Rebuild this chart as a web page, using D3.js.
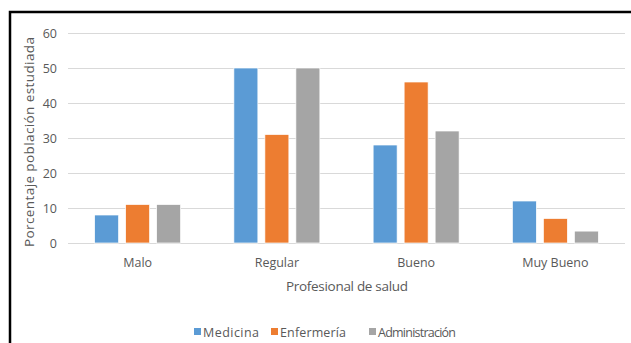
<!DOCTYPE html>
<html>
<head>
<meta charset="utf-8">
<script src="https://cdn.jsdelivr.net/npm/d3@7"></script>
<style>
  body { margin: 0; background: #fff; }
  text { font-family: "Open Sans", "Noto Sans", sans-serif; fill: #595959; }
</style>
</head>
<body>
<svg id="chart" width="631" height="343"></svg>
<script>
// chart data
const categories = ['Malo', 'Regular', 'Bueno', 'Muy Bueno'];
const seriesNames = ['Medicina', 'Enfermería', 'Administración'];
const medicina = [8, 50, 28, 12];
const enfermeria = [11, 31, 46, 7];
const administracion = [11, 50, 32, 3.4];
const yTicks = [0, 10, 20, 30, 40, 50, 60];
const colors = ['#5b9bd5', '#ed7d31', '#a5a5a5'];

const seriesValues = [medicina, enfermeria, administracion];
const rows = categories.map((c, i) => ({
    cat: c,
    vals: seriesNames.map((s, j) => ({ key: s, value: seriesValues[j][i] }))
}));

const svg = d3.select('#chart');
const margin = { left: 68, right: 6, top: 33, bottom: 100 };
const W = 631, H = 343;
const plotW = W - margin.left - margin.right;   // 557
const plotH = H - margin.top - margin.bottom;   // 210

// frame (top + left edges visible)
svg.append('path')
    .attr('d', `M10,${H} L10,12 L${W},12`)
    .attr('fill', 'none')
    .attr('stroke', '#000')
    .attr('stroke-width', 2.5);

const g = svg.append('g').attr('transform', `translate(${margin.left},${margin.top})`);

const x0 = d3.scaleBand().domain(categories).range([0, plotW]).padding(0);
const groupW = 86;
const x1 = d3.scaleBand().domain(seriesNames)
    .range([-groupW / 2, groupW / 2])
    .paddingInner(7 / 31);
const y = d3.scaleLinear().domain([0, 60]).range([plotH, 0]);

// gridlines
g.append('g').selectAll('line').data(yTicks).join('line')
    .attr('x1', 0).attr('x2', plotW)
    .attr('y1', d => y(d) + 0.5).attr('y2', d => y(d) + 0.5)
    .attr('stroke', '#d9d9d9').attr('stroke-width', 1);

// y tick labels
const yAxis = g.append('g').call(d3.axisLeft(y).tickValues(yTicks).tickSize(0).tickPadding(11));
yAxis.select('.domain').remove();
yAxis.selectAll('text').style('font-size', '12.5px').attr('fill', '#595959').attr('font-family', null);

// bars
const groups = g.append('g').selectAll('g').data(rows).join('g')
    .attr('transform', d => `translate(${x0(d.cat) + x0.bandwidth() / 2},0)`);
groups.selectAll('rect').data(d => d.vals).join('rect')
    .attr('x', d => x1(d.key))
    .attr('width', x1.bandwidth())
    .attr('y', d => y(d.value))
    .attr('height', d => plotH - y(d.value))
    .attr('fill', (d, i) => colors[i])
    .attr('stroke', '#fff').attr('stroke-width', 0.7);

// x tick labels
const xAxis = g.append('g').attr('transform', `translate(0,${plotH})`)
    .call(d3.axisBottom(x0).tickSize(0).tickPadding(15));
xAxis.select('.domain').remove();
xAxis.selectAll('text').style('font-size', '12.5px').attr('fill', '#595959').attr('font-family', null);

// axis titles
svg.append('text')
    .attr('x', 347).attr('y', 291)
    .attr('text-anchor', 'middle')
    .style('font-size', '13.5px')
    .attr('textLength', 122)
    .text('Profesional de salud');

svg.append('text')
    .attr('transform', 'translate(34,142) rotate(-90)')
    .attr('text-anchor', 'middle')
    .style('font-size', '13.5px')
    .attr('textLength', 210)
    .text('Porcentaje población estudiada');

// legend
const legendX = [194, 271, 369];
const legendLen = [56, 66, 78];
const legend = svg.append('g').selectAll('g').data(seriesNames).join('g')
    .attr('transform', (d, i) => `translate(${legendX[i]},332)`);
legend.append('rect')
    .attr('x', 0).attr('y', -4).attr('width', 7).attr('height', 7)
    .attr('fill', (d, i) => colors[i]);
legend.append('text')
    .attr('x', 9).attr('y', 4.5)
    .style('font-size', '12.5px')
    .attr('textLength', (d, i) => legendLen[i])
    .text(d => d);
</script>
</body>
</html>
